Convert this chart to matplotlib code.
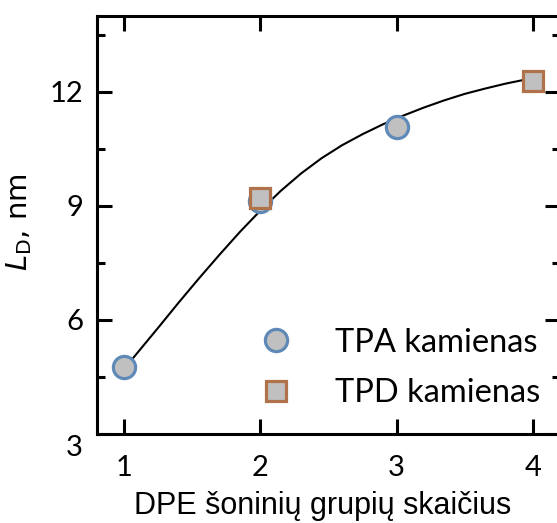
import numpy as np
import matplotlib
matplotlib.use("Agg")
import matplotlib.pyplot as plt
import matplotlib.transforms as mtransforms
from matplotlib.ticker import MultipleLocator

# data
tpa_x = [1, 2, 3]
tpa_y = [4.77, 9.13, 11.09]
tpd_x = [2, 4]
tpd_y = [9.21, 12.30]

# fitted curve, points
fit_x = [1.00, 1.10, 1.25, 1.40, 1.55, 1.70, 1.85, 2.00, 2.15, 2.30, 2.45,
         2.60, 2.75, 2.90, 3.05, 3.20, 3.35, 3.50, 3.65, 3.80, 3.95, 4.00]
fit_y = [4.72, 5.15, 5.80, 6.46, 7.10, 7.72, 8.32, 8.88, 9.40, 9.86, 10.26,
         10.60, 10.89, 11.15, 11.38, 11.59, 11.78, 11.95, 12.09, 12.22, 12.33, 12.36]

xticks = [1, 2, 3, 4]
yticks = [3, 6, 9, 12]

W, H = 557, 523
fig = plt.figure(figsize=(W / 100, H / 100), dpi=100)
ax = fig.add_axes([97 / W, 89 / H, 463 / W, 418 / H])

ax.plot(fit_x, fit_y, color="black", lw=1.5, zorder=2)
ax.plot(tpa_x, tpa_y, "o", ms=16, mfc="#c0c0c0", mec="#5f8ab8", mew=2.3,
        ls="none", label="TPA kamienas", zorder=3)
ax.plot(tpd_x, tpd_y, "s", ms=14, mfc="#c0c0c0", mec="#b0724a", mew=2.3,
        ls="none", label="TPD kamienas", zorder=4)

ax.set_xlim(0.8, 4.2)
ax.set_ylim(3, 14)
ax.set_xticks(xticks)
ax.set_yticks(yticks)
ax.yaxis.set_minor_locator(MultipleLocator(1.5))

for s in ax.spines.values():
    s.set_linewidth(2.2)
ax.tick_params(which="both", direction="in", top=True, right=True, width=2.2)
ax.tick_params(which="major", length=11)
ax.tick_params(which="minor", length=6)
ax.tick_params(axis="x", which="minor", length=0)
ax.tick_params(axis="x", pad=15)
ax.tick_params(axis="y", pad=10)

for lab in ax.get_xticklabels() + ax.get_yticklabels():
    lab.set_fontfamily("Lato")
    lab.set_fontsize(21)

# the "3" label sits a little below the axis line in the reference
lab3 = ax.get_yticklabels()[0]
lab3.set_transform(lab3.get_transform() + mtransforms.ScaledTranslation(0, -11 / 100, fig.dpi_scale_trans))

ax.set_xlabel("DPE šoninių grupių skaičius", fontsize=22, family="Liberation Sans")
ax.xaxis.set_label_coords(0.487, -0.137)
ax.set_ylabel(r"$L_{\mathrm{D}}$, nm", fontsize=21)
ax.yaxis.set_label_coords(-0.135, 0.507)

leg = ax.legend(loc="lower right", bbox_to_anchor=(1.0, 0.015), frameon=False,
                prop={"family": "Lato", "size": 23.5}, handletextpad=1.2,
                labelspacing=0.62, borderaxespad=0.2, handlelength=1.2)

fig.savefig("out.png", dpi=100)
